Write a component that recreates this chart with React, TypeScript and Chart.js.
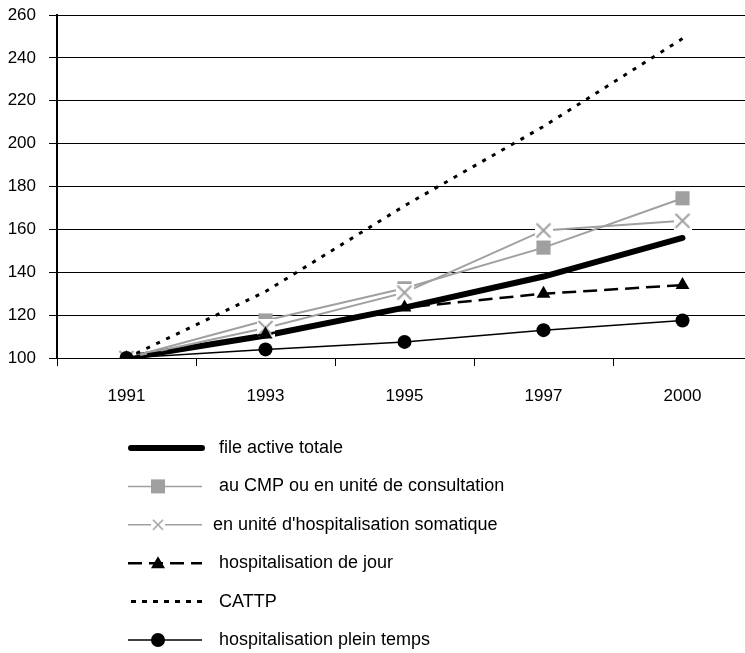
import React, { useEffect, useRef } from "react";
import { Chart, registerables } from "chart.js";
Chart.register(...registerables);

const years = ["1991", "1993", "1995", "1997", "2000"];
const fileActiveTotale = [100, 110.5, 123.5, 138, 156];
const cmpConsultation = [100, 117.5, 132.5, 151.5, 174.5];
const hospSomatique = [100, 114, 130.5, 159.5, 164];
const hospJour = [100, 111, 123.5, 130, 134];
const cattp = [100, 131, 171, 208, 249];
const pleinTemps = [100, 104, 107.5, 113, 117.5];
const seriesNames = [
  "file active totale",
  "au CMP ou en unité de consultation",
  "en unité d'hospitalisation somatique",
  "hospitalisation de jour",
  "CATTP",
  "hospitalisation plein temps",
];
const yMin = 100;
const yMax = 260;
const yStep = 20;

const GRAY = "#a0a0a0";
const FONT = "'Liberation Sans', Arial, sans-serif";

function makeCross(box: number, arm: number, lw: number) {
  const c = document.createElement("canvas");
  c.width = box;
  c.height = box;
  const g = c.getContext("2d")!;
  g.fillStyle = "#ffffff";
  g.fillRect(0, 0, box, box);
  g.strokeStyle = GRAY;
  g.lineWidth = lw;
  const m = box / 2;
  g.beginPath();
  g.moveTo(m - arm, m - arm);
  g.lineTo(m + arm, m + arm);
  g.moveTo(m + arm, m - arm);
  g.lineTo(m - arm, m + arm);
  g.stroke();
  return c;
}

export default function App() {
  const ref = useRef<HTMLCanvasElement | null>(null);
  useEffect(() => {
    if (!ref.current) return;
    const crossBig = makeCross(18, 7, 2);
    const crossSmall = makeCross(14, 5, 1.5);

    const legendPlugin = {
      id: "customLegend",
      afterDraw(chart: any) {
        const ctx = chart.ctx as CanvasRenderingContext2D;
        const x0 = 128;
        const x1 = 202;
        const mx = 158;
        ctx.save();
        seriesNames.forEach((name, i) => {
          const y = 448 + i * 38.4;
          ctx.save();
          ctx.beginPath();
          ctx.setLineDash([]);
          ctx.lineCap = "butt";
          if (i === 0) {
            ctx.strokeStyle = "#000";
            ctx.lineWidth = 6;
            ctx.lineCap = "round";
            ctx.moveTo(x0 + 3, y);
            ctx.lineTo(x1, y);
          } else if (i === 1 || i === 2) {
            ctx.strokeStyle = GRAY;
            ctx.lineWidth = 1.5;
            ctx.moveTo(x0, y);
            ctx.lineTo(x1, y);
          } else if (i === 3) {
            ctx.strokeStyle = "#000";
            ctx.lineWidth = 2.5;
            ctx.setLineDash([14, 7]);
            ctx.moveTo(x0, y);
            ctx.lineTo(x1, y);
          } else if (i === 4) {
            ctx.strokeStyle = "#000";
            ctx.lineWidth = 3;
            ctx.setLineDash([5, 6]);
            ctx.moveTo(x0 + 3, y);
            ctx.lineTo(x1, y);
          } else {
            ctx.strokeStyle = "#000";
            ctx.lineWidth = 1.5;
            ctx.moveTo(x0, y);
            ctx.lineTo(x1, y);
          }
          ctx.stroke();
          ctx.setLineDash([]);
          if (i === 1) {
            ctx.fillStyle = GRAY;
            ctx.fillRect(mx - 7, y - 7, 14, 14);
          } else if (i === 2) {
            ctx.drawImage(crossSmall, mx - 7, y - 7);
          } else if (i === 3) {
            ctx.fillStyle = "#000";
            ctx.beginPath();
            ctx.moveTo(mx, y - 7);
            ctx.lineTo(mx + 7, y + 5);
            ctx.lineTo(mx - 7, y + 5);
            ctx.closePath();
            ctx.fill();
          } else if (i === 5) {
            ctx.fillStyle = "#000";
            ctx.beginPath();
            ctx.arc(mx, y, 7, 0, Math.PI * 2);
            ctx.fill();
          }
          ctx.restore();
          ctx.fillStyle = "#000";
          ctx.font = `18px ${FONT}`;
          ctx.textBaseline = "middle";
          ctx.textAlign = "left";
          ctx.fillText(name, i === 2 ? 213 : 219, y);
        });
        ctx.restore();
      },
    };

    const chart = new Chart(ref.current, {
      type: "line",
      data: {
        labels: years,
        datasets: [
          {
            label: seriesNames[0],
            data: fileActiveTotale,
            borderColor: "#000",
            borderWidth: 6,
            borderCapStyle: "round",
            pointRadius: 0,
            order: 5,
          },
          {
            label: seriesNames[1],
            data: cmpConsultation,
            borderColor: GRAY,
            borderWidth: 2,
            pointStyle: "rect",
            pointRadius: 10,
            pointBackgroundColor: GRAY,
            pointBorderWidth: 0,
            pointBorderColor: GRAY,
            order: 4,
          },
          {
            label: seriesNames[2],
            data: hospSomatique,
            borderColor: GRAY,
            borderWidth: 2,
            pointStyle: crossBig,
            pointRadius: 9,
            order: 3,
          },
          {
            label: seriesNames[3],
            data: hospJour,
            borderColor: "#000",
            borderWidth: 2.5,
            borderDash: [14, 7],
            pointStyle: "triangle",
            pointRadius: 8,
            pointBackgroundColor: "#000",
            pointBorderColor: "#000",
            pointBorderWidth: 0,
            order: 2,
          },
          {
            label: seriesNames[4],
            data: cattp,
            borderColor: "#000",
            borderWidth: 3,
            borderDash: [4, 7],
            pointRadius: 0,
            order: 1,
          },
          {
            label: seriesNames[5],
            data: pleinTemps,
            borderColor: "#000",
            borderWidth: 1.5,
            pointStyle: "circle",
            pointRadius: 7,
            pointBackgroundColor: "#000",
            pointBorderColor: "#000",
            pointBorderWidth: 0,
            order: 0,
          },
        ],
      },
      options: {
        responsive: false,
        animation: false,
        events: [],
        layout: { padding: { top: 15, left: 0, right: 0, bottom: 235 } },
        plugins: { legend: { display: false }, tooltip: { enabled: false } },
        elements: { line: { tension: 0 } },
        scales: {
          x: {
            type: "category",
            offset: true,
            grid: {
              display: true,
              drawOnChartArea: false,
              drawTicks: true,
              tickLength: 8,
              offset: true,
              color: "#000",
              lineWidth: 1,
            },
            border: { display: true, color: "#000", width: 1 },
            ticks: {
              color: "#000",
              font: { family: FONT, size: 17 },
              padding: 20,
              maxRotation: 0,
              autoSkip: false,
            },
            afterFit(scale: any) {
              scale.height = 60;
              scale.paddingLeft = 0;
              scale.paddingRight = 0;
            },
          },
          y: {
            min: yMin,
            max: yMax,
            grid: { color: "#000", lineWidth: 1, tickLength: 8, drawTicks: true },
            border: { display: true, color: "#000", width: 2 },
            ticks: {
              stepSize: yStep,
              color: "#000",
              padding: 13,
              font: { family: FONT, size: 17 },
            },
            afterFit(scale: any) {
              scale.width = 57;
              scale.paddingTop = 0;
              scale.paddingBottom = 0;
            },
          },
        },
      },
      plugins: [legendPlugin],
    } as any);
    return () => chart.destroy();
  }, []);

  return (
    <div
      style={{
        position: "fixed",
        left: 0,
        top: 0,
        width: 745,
        height: 653,
        overflow: "hidden",
        background: "#fff",
      }}
    >
      <canvas ref={ref} width={763} height={653} style={{ width: 763, height: 653, display: "block" }} />
    </div>
  );
}
